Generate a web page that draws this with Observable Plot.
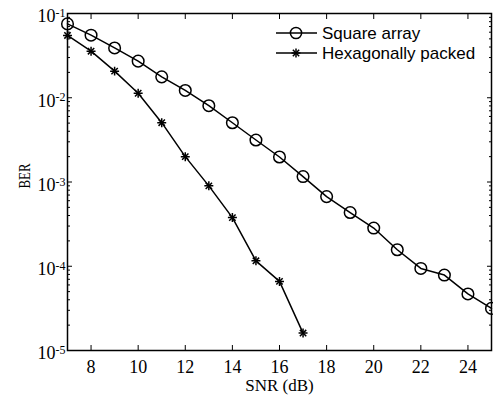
<!DOCTYPE html>
<html><head><meta charset="utf-8">
<script src="https://cdn.jsdelivr.net/npm/d3@7"></script>
<script src="https://cdn.jsdelivr.net/npm/@observablehq/plot@0.6"></script>
<style>body{margin:0;background:#fff}#chart{width:493px;height:396px}</style>
</head><body><div id="chart"></div>
<script>
// ---- data ----
const seriesNames = ["Square array", "Hexagonally packed"];
const squareSNR = [7,8,9,10,11,12,13,14,15,16,17,18,19,20,21,22,23,24,25];
const squareBER = [0.0753,0.0553,0.039,0.0272,0.0177,0.0122,0.00804,0.00505,0.00315,0.00198,0.00116,0.000671,0.000434,0.000284,0.000157,0.0000942,0.0000786,0.0000469,0.0000316];
const hexSNR = [7,8,9,10,11,12,13,14,15,16,17];
const hexBER = [0.0549,0.0357,0.0207,0.0113,0.00506,0.0020,0.00090,0.000378,0.000116,0.0000661,0.0000161];
const xTicks = [8,10,12,14,16,18,20,22,24];
const yMajor = [1e-5,1e-4,1e-3,1e-2,1e-1];
const yMinor = yMajor.slice(0, -1).flatMap(d => [2,3,4,5,6,7,8,9].map(m => m * d));
const xLabel = "SNR (dB)";
const yLabel = ["BER"];

const square = squareSNR.map((x, i) => ({x, y: squareBER[i]}));
const hex = hexSNR.map((x, i) => ({x, y: hexBER[i]}));

const W = 493, H = 396;
const chart = Plot.plot({
  width: W, height: H,
  marginLeft: 67, marginRight: 2, marginTop: 13, marginBottom: 46,
  style: {fontFamily: "'Liberation Serif', serif", fontSize: "17px", color: "black", background: "white"},
  x: {domain: [7, 25]},
  y: {type: "log", domain: [1e-5, 1e-1]},
  marks: [
    Plot.axisX({anchor: "bottom", ticks: xTicks, tickSize: -5, fill: "none", label: null}),
    Plot.axisX({anchor: "top", ticks: xTicks, tickSize: -5, fill: "none", label: null}),
    Plot.axisX({anchor: "bottom", ticks: xTicks, tickSize: 0, tickPadding: 10, tickFormat: d => String(d),
      label: xLabel, labelAnchor: "center", labelOffset: 40, labelArrow: "none"}),
    Plot.axisY({anchor: "left", ticks: yMajor, tickSize: -5, fill: "none", label: null}),
    Plot.axisY({anchor: "left", ticks: yMinor, tickSize: -3, fill: "none", label: null}),
    Plot.axisY({anchor: "right", ticks: yMajor, tickSize: -5, fill: "none", label: null}),
    Plot.axisY({anchor: "right", ticks: yMinor, tickSize: -3, fill: "none", label: null}),
    Plot.axisY({anchor: "left", ticks: yMajor, tickSize: 0, tickPadding: 2, dy: 3,
      tickFormat: d => "10^" + Math.round(Math.log10(d)), label: null}),
    Plot.text(yLabel, {text: d => d, frameAnchor: "left", rotate: -90, dx: -43, dy: -6,
      lineAnchor: "middle", textAnchor: "middle", fontSize: 17, fill: "black"}),
    Plot.frame({stroke: "black", strokeWidth: 1.5}),
    Plot.line(square, {x: "x", y: "y", stroke: "black", strokeWidth: 1.5}),
    Plot.dot(square, {x: "x", y: "y", r: 5.8, stroke: "black", strokeWidth: 1.5, fill: "none"}),
    Plot.line(hex, {x: "x", y: "y", stroke: "black", strokeWidth: 1.5}),
    Plot.dot(hex, {x: "x", y: "y", symbol: "plus", r: 3, stroke: "black", strokeWidth: 1.5}),
    Plot.dot(hex, {x: "x", y: "y", symbol: "times", r: 3, stroke: "black", strokeWidth: 1.5})
  ]
});

const svg = d3.select(chart);
// font sizes for axis texts
svg.selectAll("g[aria-label$='tick label'] text")
  .style("font-size", "18px").style("font-family", "'Liberation Serif', serif");
svg.selectAll("g[aria-label='x-axis label'] text")
  .style("font-size", "17px").style("font-family", "'Liberation Serif', serif");
svg.selectAll("g[aria-label='text'] text")
  .style("font-size", "17px").style("font-family", "'Liberation Serif', serif")
  .attr("textLength", 25).attr("lengthAdjust", "spacingAndGlyphs");

// superscript exponents on y tick labels
svg.selectAll("g[aria-label='y-axis tick label'] text").each(function() {
  const t = d3.select(this);
  const s = t.text();
  if (!s.startsWith("10^")) return;
  const exp = s.slice(3);
  t.text(null);
  t.append("tspan").text("10");
  t.append("tspan").attr("dy", "-0.42em").style("font-size", "12px").text(exp);
});

// legend
const lg = svg.append("g").attr("aria-label", "legend").attr("text-anchor", "start");
const rows = [{name: seriesNames[0], sym: "circle"}, {name: seriesNames[1], sym: "star"}];
rows.forEach((r, i) => {
  const y = 33 + i * 20;
  const g = lg.append("g").attr("transform", `translate(0,${y})`);
  g.append("line").attr("x1", 276).attr("x2", 317).attr("y1", 0).attr("y2", 0)
    .attr("stroke", "black").attr("stroke-width", 1.5);
  if (r.sym === "circle") {
    g.append("circle").attr("cx", 296).attr("cy", 0).attr("r", 5.6)
      .attr("fill", "none").attr("stroke", "black").attr("stroke-width", 1.5);
  } else {
    g.append("path").attr("transform", "translate(296,0)")
      .attr("d", d3.symbol(d3.symbolPlus, 28)()).attr("fill", "none").attr("stroke", "black").attr("stroke-width", 1.5);
    g.append("path").attr("transform", "translate(296,0)")
      .attr("d", d3.symbol(d3.symbolTimes, 28)()).attr("fill", "none").attr("stroke", "black").attr("stroke-width", 1.5);
  }
  g.append("text").attr("x", 322).attr("y", 0).attr("dy", "0.36em").attr("text-anchor", "start")
    .style("font-family", "'Liberation Sans', Arial, sans-serif").style("font-size", "17px")
    .attr("fill", "black").text(r.name);
});

document.getElementById("chart").append(chart);
</script>
</body></html>
